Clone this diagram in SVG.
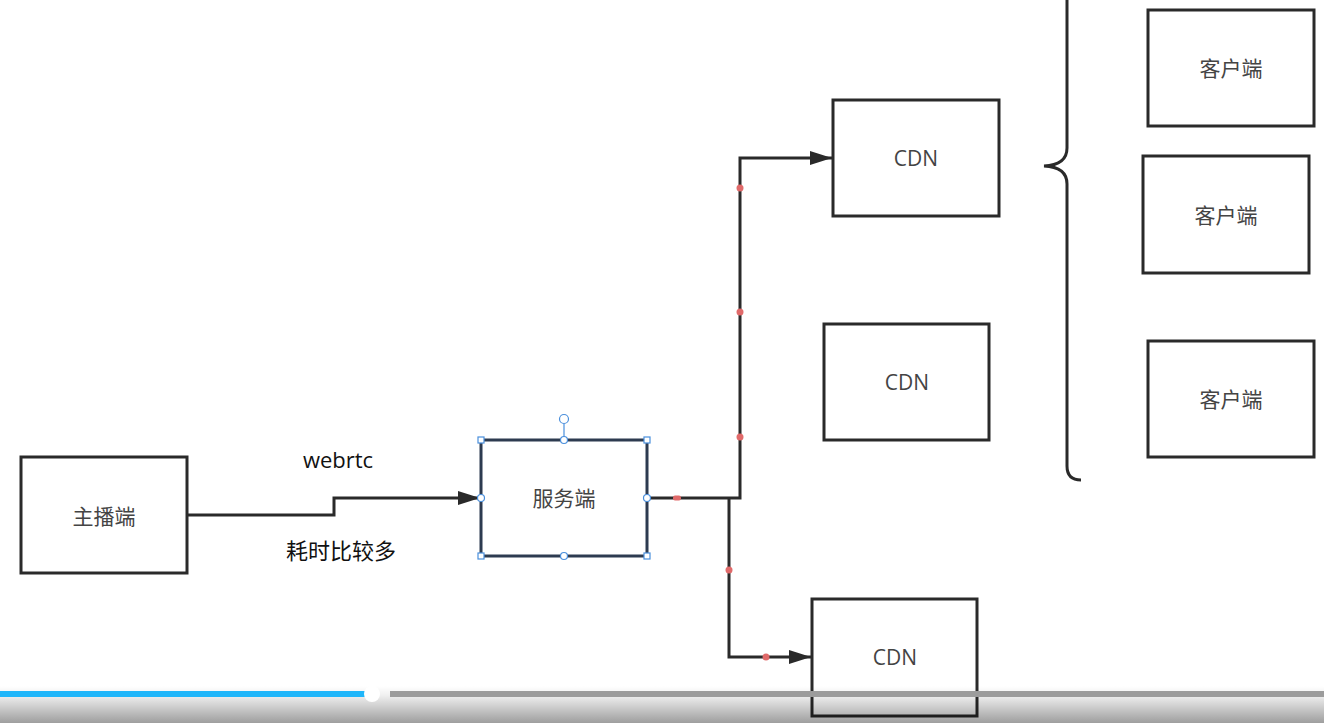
<svg xmlns="http://www.w3.org/2000/svg" width="1324" height="723" viewBox="0 0 1324 723">
<style>
.box{fill:#fff;stroke:#2a2a2a;stroke-width:3}
.lbl{font-family:"Noto Sans CJK SC","Noto Sans",sans-serif;font-size:21px;fill:#444;text-anchor:middle;dominant-baseline:central}
.cdn{font-family:"Open Sans","Noto Sans",sans-serif;font-size:21px;fill:#444;text-anchor:middle;dominant-baseline:central}
.edge{fill:none;stroke:#2a2a2a;stroke-width:3}
.dot{fill:#e06a6a}
.hd{fill:#fff;stroke:#4a8fdc;stroke-width:1.2}
</style>
<defs>
<marker id="arr" viewBox="0 0 22 14" refX="22" refY="7" markerWidth="22" markerHeight="14" markerUnits="userSpaceOnUse" orient="auto">
<path d="M0,0 L22,7 L0,14 Z" fill="#2a2a2a"/>
</marker>
<linearGradient id="shade" x1="0" y1="0" x2="0" y2="1">
<stop offset="0" stop-color="#000" stop-opacity="0"/>
<stop offset="0.25" stop-color="#000" stop-opacity="0.06"/>
<stop offset="1" stop-color="#000" stop-opacity="0.38"/>
</linearGradient>
</defs>
<rect width="1324" height="723" fill="#fff"/>

<g id="connectors">
<path class="edge" d="M187,515 L334,515 L334,498 L480,498" marker-end="url(#arr)"/>
<path class="edge" d="M647,498 L740,498 L740,158 L832,158" marker-end="url(#arr)"/>
<path class="edge" d="M729,498 L729,657 L811,657" marker-end="url(#arr)"/>
<circle class="dot" cx="740" cy="188" r="3.5"/>
<circle class="dot" cx="740" cy="312" r="3.5"/>
<circle class="dot" cx="740" cy="437" r="3.5"/>
<rect class="dot" x="673" y="495.5" width="8" height="5" rx="2"/>
<circle class="dot" cx="729" cy="570" r="3.5"/>
<circle class="dot" cx="766" cy="657" r="3.5"/>
</g>

<g id="brace">
<path class="edge" d="M1067,-5 L1067,148 Q1067,165 1044,166 Q1067,167 1067,184 L1067,466 Q1067,480 1081,480"/>
</g>

<g id="host">
<rect class="box" x="21" y="457" width="166" height="116"/>
<text class="lbl" x="104" y="515">主播端</text>
</g>

<g id="labels">
<text x="338" y="468" font-family="'Open Sans','Noto Sans',sans-serif" font-size="22" fill="#111" text-anchor="middle">webrtc</text>
<text x="341" y="559" font-family="'Noto Sans CJK SC','Noto Sans',sans-serif" font-size="22" fill="#111" text-anchor="middle">耗时比较多</text>
</g>

<g id="server">
<rect x="481" y="440" width="166" height="116" fill="#fff" stroke="#2d3b50" stroke-width="3"/>
<text class="lbl" x="564" y="497">服务端</text>
<line x1="564" y1="424" x2="564" y2="440" stroke="#4a8fdc" stroke-width="1.2"/>
<circle class="hd" cx="564" cy="419" r="4.5"/>
<rect class="hd" x="478" y="437" width="6" height="6"/>
<rect class="hd" x="644" y="437" width="6" height="6"/>
<rect class="hd" x="478" y="553" width="6" height="6"/>
<rect class="hd" x="644" y="553" width="6" height="6"/>
<circle class="hd" cx="564" cy="440" r="3.5"/>
<circle class="hd" cx="564" cy="556" r="3.5"/>
<circle class="hd" cx="481" cy="498" r="3.5"/>
<circle class="hd" cx="647" cy="498" r="3.5"/>
</g>

<g id="cdn1">
<rect class="box" x="833" y="100" width="166" height="116"/>
<text class="cdn" x="916" y="158">CDN</text>
</g>
<g id="cdn2">
<rect class="box" x="824" y="324" width="165" height="116"/>
<text class="cdn" x="907" y="382">CDN</text>
</g>
<g id="cdn3">
<rect class="box" x="812" y="599" width="165" height="117"/>
<text class="cdn" x="895" y="657">CDN</text>
</g>

<g id="client1">
<rect class="box" x="1148" y="10" width="166" height="116"/>
<text class="lbl" x="1231" y="67">客户端</text>
</g>
<g id="client2">
<rect class="box" x="1143" y="156" width="166" height="117"/>
<text class="lbl" x="1226" y="214">客户端</text>
</g>
<g id="client3">
<rect class="box" x="1148" y="341" width="166" height="116"/>
<text class="lbl" x="1231" y="398">客户端</text>
</g>

<g id="player">
<rect x="0" y="686" width="1324" height="37" fill="url(#shade)"/>
<rect x="0" y="691" width="368" height="6" fill="#1fb6fa"/>
<rect x="390" y="691" width="934" height="6" fill="#9c9c9c"/>
<circle cx="372" cy="694" r="8" fill="#fff"/>
</g>
</svg>
